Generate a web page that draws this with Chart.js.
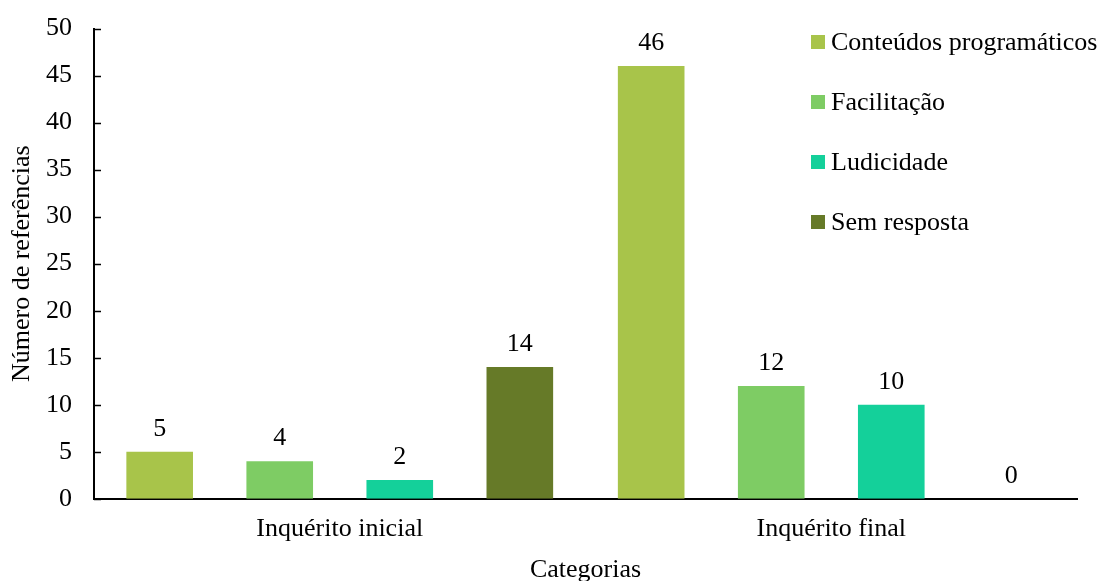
<!DOCTYPE html>
<html>
<head>
<meta charset="utf-8">
<script src="https://cdn.jsdelivr.net/npm/chart.js@4/dist/chart.umd.min.js"></script>
<style>
  html, body { margin: 0; padding: 0; background: #fff; }
  #wrap { width: 1106px; height: 581px; }
</style>
</head>
<body>
<div id="wrap"><canvas id="chart"></canvas></div>
<script>
const categories = ['Inquérito inicial', 'Inquérito final'];
const seriesNames = ['Conteúdos programáticos', 'Facilitação', 'Ludicidade', 'Sem resposta'];
const conteudos = [5, 46];
const facilitacao = [4, 12];
const ludicidade = [2, 10];
const semResposta = [14, 0];
const colors = ['#a8c44a', '#7ecc64', '#14d09a', '#667a28'];

const FONT = '"Liberation Serif", "Times New Roman", serif';

// value labels above each bar
const valueLabels = {
  id: 'valueLabels',
  afterDatasetsDraw(chart) {
    const ctx = chart.ctx;
    ctx.save();
    ctx.font = '26px ' + FONT;
    ctx.fillStyle = '#000';
    ctx.textAlign = 'center';
    ctx.textBaseline = 'middle';
    chart.data.datasets.forEach((ds, i) => {
      chart.getDatasetMeta(i).data.forEach((bar, j) => {
        ctx.fillText(ds.data[j], bar.x, bar.y - 23);
      });
    });
    ctx.restore();
  }
};

// inward tick marks on the y axis
const innerTicks = {
  id: 'innerTicks',
  afterDraw(chart) {
    const y = chart.scales.y, ctx = chart.ctx;
    ctx.save();
    ctx.strokeStyle = '#000';
    ctx.lineWidth = 1.5;
    y.ticks.forEach(t => {
      const py = Math.round(y.getPixelForValue(t.value)) + 0.5;
      ctx.beginPath();
      ctx.moveTo(y.right, py);
      ctx.lineTo(y.right + 7, py);
      ctx.stroke();
    });
    ctx.restore();
  }
};

// legend drawn over the top right of the plot
const sideLegend = {
  id: 'sideLegend',
  afterDraw(chart) {
    const ctx = chart.ctx;
    ctx.save();
    ctx.font = '26px ' + FONT;
    ctx.textBaseline = 'middle';
    ctx.textAlign = 'left';
    chart.data.datasets.forEach((ds, i) => {
      const cy = 42 + i * 60;
      ctx.fillStyle = ds.backgroundColor;
      ctx.fillRect(811, cy - 7, 14, 14);
      ctx.fillStyle = '#000';
      ctx.fillText(ds.label, 831, cy + 1);
    });
    ctx.restore();
  }
};

new Chart(document.getElementById('chart'), {
  type: 'bar',
  data: {
    labels: categories,
    datasets: [
      { label: seriesNames[0], data: conteudos, backgroundColor: colors[0] },
      { label: seriesNames[1], data: facilitacao, backgroundColor: colors[1] },
      { label: seriesNames[2], data: ludicidade, backgroundColor: colors[2] },
      { label: seriesNames[3], data: semResposta, backgroundColor: colors[3] }
    ]
  },
  options: {
    responsive: true,
    maintainAspectRatio: false,
    animation: false,
    datasets: { bar: { categoryPercentage: 0.977, barPercentage: 0.555 } },
    layout: { padding: { top: 0, right: 29, left: 0, bottom: 0 } },
    plugins: {
      legend: { display: false },
      tooltip: { enabled: false }
    },
    scales: {
      x: {
        grid: { display: false, drawTicks: false },
        border: { color: '#000', width: 2 },
        ticks: { color: '#000', font: { family: FONT, size: 26 }, padding: 15 },
        title: { display: true, text: 'Categorias', color: '#000', font: { family: FONT, size: 26, lineHeight: 1 }, padding: { top: -3, bottom: -2 } }
      },
      y: {
        min: 0, max: 50,
        grid: { display: false, drawTicks: false },
        border: { color: '#000', width: 2 },
        ticks: { stepSize: 5, color: '#000', font: { family: FONT, size: 26, lineHeight: 0.5 }, padding: 22 },
        title: { display: true, text: 'Número de referências', color: '#000', font: { family: FONT, size: 26, lineHeight: 1 }, padding: { top: 9, bottom: -11 } }
      }
    }
  },
  plugins: [valueLabels, innerTicks, sideLegend]
});
</script>
</body>
</html>
